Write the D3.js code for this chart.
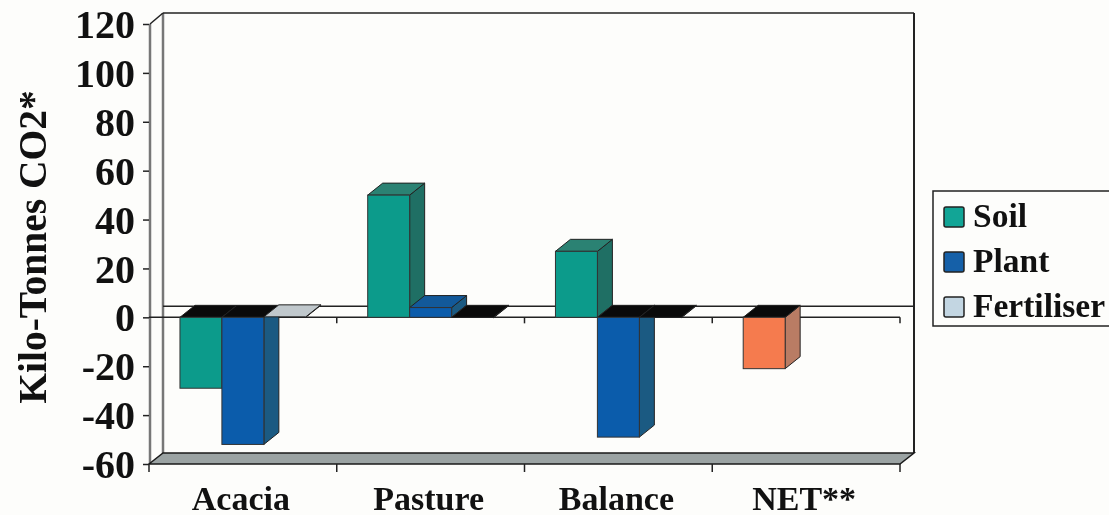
<!DOCTYPE html>
<html lang="en">
<head>
    <meta charset="UTF-8">
    <title>Kilo-Tonnes CO2</title>
    <script src="https://d3js.org/d3.v7.min.js"></script>
    <style>
        html, body { margin: 0; padding: 0; background: #fdfdfb; overflow: hidden; }
        svg { display: block; filter: blur(0.5px); }
        text { font-family: "Liberation Serif", serif; font-weight: bold; fill: #111; }
    </style>
</head>
<body>
    <svg id="chart" width="1109" height="515"></svg>
    <script>
        // Values
        const categories = ["Acacia", "Pasture", "Balance", "NET**"];
        const seriesNames = ["Soil", "Plant", "Fertiliser"];
        const soil = [-29, 50, 27, -21];
        const plant = [-52, 4, -49, null];
        const fertiliser = [0.2, -0.2, -0.2, null];
        const yTicks = [120, 100, 80, 60, 40, 20, 0, -20, -40, -60];

        const colors = {
            Soil: { front: "#0c9b8b", side: "#1f6f64", top: "#2b8273", key: "#12a596" },
            Plant: { front: "#0b5cab", side: "#1b5a82", top: "#12599a", key: "#1560a8" },
            Fertiliser: { front: "#c3d0da", side: "#9aa5ad", top: "#c0c8cc", key: "#c3d6e2" },
            Net: { front: "#f57b4e", side: "#b97c64", top: "#0a0a0a" }
        };

        const svg = d3.select("#chart");
        const dx = 15, dy = 12;
        const plotLeft = 149, plotRight = 900, plotTop = 24, plotBottom = 464;

        const y = d3.scaleLinear().domain([-60, 120]).range([plotBottom, plotTop]);
        const x = d3.scaleBand().domain(categories).range([plotLeft, plotRight]);
        const bar = d3.scaleBand().domain(seriesNames).range([0, x.bandwidth()]).paddingOuter(0.738).paddingInner(0);

        const poly = (pts, fill, stroke, w) => svg.append("polygon")
            .attr("points", pts.map(p => p.join(",")).join(" "))
            .attr("fill", fill)
            .attr("stroke", stroke || "none")
            .attr("stroke-width", w || 0);

        const line = (x1, y1, x2, y2, color, w) => svg.append("line")
            .attr("x1", x1).attr("y1", y1).attr("x2", x2).attr("y2", y2)
            .attr("stroke", color).attr("stroke-width", w);

        // Walls
        const backTop = plotTop - 11, backBottom = plotBottom - 11;
        line(plotLeft + 14, backTop, plotLeft + 14, backBottom, "#777", 2.5);
        line(plotLeft + 1, plotTop, plotLeft + 1, plotBottom, "#777", 2.5);
        line(plotLeft + 1, plotTop, plotLeft + 14, backTop, "#222", 1.5);
        line(plotLeft + 14, backTop, plotRight + 14, backTop, "#222", 1.5);
        line(plotRight + 14, backTop, plotRight + 14, backBottom, "#222", 2);

        // Floor
        poly([[plotLeft, plotBottom], [plotLeft + 14, backBottom], [plotRight + 14, backBottom], [plotRight, plotBottom]], "#9ba3a3", "#1a1a1a", 1.5);

        // Zero plane
        line(plotLeft + 14, y(0) - 11, plotRight + 14, y(0) - 11, "#222", 1.5);
        line(plotLeft, y(0), plotRight, y(0), "#222", 1.5);

        // Axes
        const yAxis = svg.append("g")
            .attr("transform", `translate(${plotLeft},0)`)
            .call(d3.axisLeft(y).tickValues(yTicks).tickFormat(d => String(d)).tickSize(6).tickPadding(8));
        yAxis.select(".domain").remove();
        yAxis.selectAll("line").attr("stroke", "#222").attr("stroke-width", 1.5);
        yAxis.selectAll("text").attr("font-size", 40).attr("dy", "0.34em");

        const tickXs = categories.map(c => x(c)).concat([plotRight]);
        tickXs.forEach(t => {
            line(t, plotBottom, t, plotBottom + 8, "#222", 1.5);
            if (t > plotLeft) line(t, y(0), t, y(0) + 6, "#222", 1.5);
        });

        svg.append("g").selectAll("text")
            .data(categories)
            .enter().append("text")
            .attr("x", d => x(d) + x.bandwidth() / 2 - 2)
            .attr("y", 510)
            .attr("text-anchor", "middle")
            .attr("font-size", 34)
            .text(d => d);

        svg.append("text")
            .attr("transform", "translate(46,247) rotate(-90)")
            .attr("text-anchor", "middle")
            .attr("font-size", 39.5)
            .text("Kilo-Tonnes CO2*");

        // Bars, back to front by category and series
        const seriesValues = [soil, plant, fertiliser];
        categories.forEach((c, i) => {
            seriesNames.forEach((s, j) => {
                const v = seriesValues[j][i];
                if (v === null) return;
                const col = c === "NET**" ? colors.Net : colors[s];
                const x0 = x(c) + bar(s), x1 = x0 + bar.bandwidth();
                const yTop = y(Math.max(v, 0)), yBot = y(Math.min(v, 0));
                const topFill = v < 0 ? "#0a0a0a" : col.top;
                poly([[x1, yTop], [x1 + dx, yTop - dy], [x1 + dx, yBot - dy], [x1, yBot]], col.side, "#222", 1);
                poly([[x0, yTop], [x0 + dx, yTop - dy], [x1 + dx, yTop - dy], [x1, yTop]], topFill, "#222", 1);
                if (Math.abs(v) > 1) {
                    svg.append("rect")
                        .attr("x", x0).attr("y", yTop)
                        .attr("width", x1 - x0).attr("height", yBot - yTop)
                        .attr("fill", col.front)
                        .attr("stroke", "#333").attr("stroke-width", 1);
                }
            });
        });

        // Legend
        svg.append("rect")
            .attr("x", 933).attr("y", 191).attr("width", 190).attr("height", 135)
            .attr("fill", "#fdfdfb").attr("stroke", "#222").attr("stroke-width", 1.5);

        const legend = svg.append("g").selectAll("g")
            .data(seriesNames)
            .enter().append("g")
            .attr("transform", (d, i) => `translate(0,${217 + i * 45})`);

        legend.append("rect")
            .attr("x", 944).attr("y", -10).attr("width", 20).attr("height", 20)
            .attr("rx", 2)
            .attr("fill", d => colors[d].key)
            .attr("stroke", "#222").attr("stroke-width", 1.5);

        legend.append("text")
            .attr("x", 973).attr("y", 10)
            .attr("font-size", 33.5)
            .text(d => d);
    </script>
</body>
</html>
